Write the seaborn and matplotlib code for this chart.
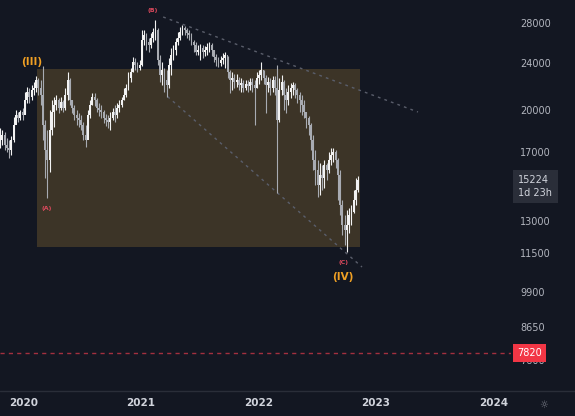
import matplotlib
matplotlib.use("Agg")
import matplotlib.pyplot as plt
import matplotlib.patches as mpatches
import matplotlib.transforms as mtransforms
from matplotlib.ticker import NullLocator
import numpy as np
import pandas as pd
import seaborn as sns

# cores estilo TradingView (tema escuro)
BG = "#131722"
TEXT = "#b2b5be"
UP = "#f2f2f2"
DOWN = "#a8abb2"

# velas semanais
START_WEEK = "2019-10-21"
FIRST_OPEN = 17500
CLOSES = [
    17810, 18160, 17470, 17270, 17140, 17810, 18870, 19610, 19390, 19840,
    19610, 20780, 21440, 21040, 21600, 21770, 22450, 21770, 21200, 18870,
    17140, 16490, 18510, 19840, 20390, 20780, 20150, 20620, 20150, 21200,
    22450, 20780, 20150, 19610, 19390, 19240, 18870, 18160, 17810, 19610,
    20390, 21040, 20780, 20150, 19990, 19840, 19390, 19240, 19090, 19390,
    19840, 19610, 20150, 20390, 20780, 21200, 21770, 22630, 23160, 24060,
    23800, 23530, 23800, 26200, 26700, 26000, 25700, 26400, 27020, 27230,
    24250, 22900, 23340, 22450, 22030, 23800, 24730, 25210, 26000, 26400,
    27020, 27420, 27230, 26910, 26700, 26000, 25700, 25020, 25210, 25410,
    25020, 25210, 25500, 25700, 25210, 24540, 24250, 23980, 24250, 24440,
    24730, 23160, 22450, 22630, 22280, 22450, 22030, 22200, 21770, 22110,
    21940, 22280, 22030, 21770, 22630, 22900, 23340, 22630, 22030, 22280,
    21770, 22450, 21770, 19240, 21600, 22280, 21200, 20780, 21440, 21770,
    22030, 21600, 21200, 20780, 20390, 19840, 19390, 18870, 17810, 16490,
    15860, 14970, 15560, 15380, 16170, 15860, 16490, 16810, 17010, 16490,
    15560, 13860, 12830, 12590, 12830, 13340, 13500, 14130, 14690, 15224,
]
HIGHS = [
    18660, 18510, 18370, 17950, 17810, 18090, 19460, 19990, 19840, 19990,
    20150, 21440, 21860, 21770, 22030, 22280, 22810, 22630, 22450, 23710,
    19240, 18510, 19990, 20780, 21040, 21200, 20950, 21040, 20780, 21770,
    23160, 22630, 20780, 20390, 19990, 19760, 19610, 19090, 18870, 19990,
    20780, 21360, 21360, 20950, 20550, 20390, 19990, 19690, 19610, 19840,
    20150, 20390, 20550, 20780, 21040, 21770, 22110, 23160, 23530, 24540,
    24440, 24060, 24250, 27230, 27230, 26910, 26400, 26910, 27420, 28290,
    27420, 24730, 24060, 23530, 23340, 24440, 25410, 25700, 26400, 27020,
    27530, 27750, 27640, 27420, 27230, 26910, 26200, 26000, 25700, 25800,
    25700, 25600, 25900, 26000, 25900, 25210, 24830, 24540, 24630, 24920,
    25020, 24630, 23340, 23160, 22990, 22990, 22720, 22630, 22450, 22450,
    22450, 22630, 22630, 22450, 23160, 23340, 24060, 23340, 22900, 22720,
    22630, 22810, 22810, 23800, 22630, 22900, 22450, 21770, 22030, 22200,
    22280, 22200, 21770, 21440, 21200, 20780, 19840, 19540, 19020, 18160,
    17140, 16490, 16300, 16170, 16490, 16300, 17010, 17270, 17270, 17140,
    16620, 15860, 14130, 13340, 13600, 13700, 13860, 14690, 15380, 15500,
]
LOWS = [
    17270, 17470, 17140, 17010, 16620, 16810, 17670, 19090, 19090, 19240,
    19240, 19690, 20550, 20550, 20780, 21200, 21440, 21200, 20390, 17810,
    15380, 14240, 15740, 18160, 18730, 19990, 19760, 19990, 19840, 19990,
    20780, 20390, 19760, 19240, 18870, 18730, 18510, 17810, 17340, 18660,
    19390, 20390, 20310, 19840, 19540, 19390, 19020, 18800, 18660, 18510,
    19240, 19090, 19390, 19840, 20230, 20780, 21040, 21600, 22280, 23160,
    23340, 23160, 23340, 23710, 25700, 25210, 25020, 25410, 26000, 26200,
    23800, 22280, 22030, 21440, 21040, 21770, 22900, 24250, 24730, 25700,
    26200, 26700, 26700, 26400, 26200, 25700, 25020, 24730, 24730, 24250,
    24440, 24630, 24730, 25020, 24630, 24060, 23710, 23620, 23710, 23890,
    23530, 22630, 21360, 21600, 21770, 21860, 21600, 21440, 21440, 21600,
    21440, 21600, 21440, 18870, 21770, 22110, 22450, 22110, 19760, 21440,
    21200, 21440, 21200, 14520, 19090, 21200, 19990, 19760, 20390, 20950,
    21200, 20950, 20550, 19840, 19610, 19390, 18660, 18160, 17140, 15860,
    14970, 14300, 14410, 14690, 14800, 15260, 15680, 16170, 16360, 15980,
    14130, 13340, 12350, 11880, 11560, 12450, 12830, 13440, 13860, 14580,
]

PRICE_TICKS = [28000, 24000, 20000, 17000, 13000, 11500, 9900, 8650, 7600]
YEAR_TICKS = ["2020", "2021", "2022", "2023", "2024"]

# desenhos (retângulo, linhas de tendência, alerta)
BOX_DATES = ["2020-02-14", "2022-11-13"]
BOX_PRICES = [23410, 11780]
UPPER_LINE_DATES = ["2021-03-11", "2023-05-12"]
UPPER_LINE_PRICES = [28620, 19830]
LOWER_LINE_DATES = ["2021-03-25", "2022-11-19"]
LOWER_LINE_PRICES = [21040, 10900]
ALERT_PRICE = 7820
LAST_PRICE = 15224
COUNTDOWN = "1d 23h"

WAVE_LABELS = ["(III)", "(IV)", "(A)", "(B)", "(C)"]
WAVE_DATES = ["2020-01-29", "2022-09-21", "2020-03-13", "2021-02-08", "2022-09-21"]
WAVE_PRICES = [24060, 10490, 13640, 29290, 11110]
WAVE_COLORS = ["#f0a024", "#f0a024", "#e04a5e", "#e04a5e", "#e04a5e"]
WAVE_SIZES = [7.5, 7.5, 4.5, 4.5, 4.5]

X_RANGE = ["2019-10-21", "2024-02-25"]
Y_RANGE = [6753, 30560]


def build_candles():
    dates = pd.date_range(START_WEEK, periods=len(CLOSES), freq="W-MON")
    df = pd.DataFrame({"date": dates, "close": CLOSES, "high": HIGHS, "low": LOWS})
    df["open"] = [FIRST_OPEN] + CLOSES[:-1]
    df["up"] = df["close"] >= df["open"]
    return df


def main():
    sns.set_theme(style="dark", rc={
        "axes.facecolor": BG,
        "figure.facecolor": BG,
        "axes.edgecolor": BG,
        "text.color": TEXT,
    })
    plt.rcParams["font.family"] = ["DejaVu Sans"]

    df = build_candles()

    fig = plt.figure(figsize=(5.75, 4.16), dpi=100)
    ax = fig.add_axes([0, 25 / 416, 511 / 575, 391 / 416])
    ax.set_yscale("log")

    # retângulo marrom da correção
    x0, x1 = pd.to_datetime(BOX_DATES)
    rect = mpatches.Rectangle((x0, BOX_PRICES[1]), x1 - x0, BOX_PRICES[0] - BOX_PRICES[1],
                              facecolor="#3c3427", edgecolor="none", zorder=1)
    ax.add_patch(rect)

    # velas
    colors = np.where(df["up"], UP, DOWN)
    ax.vlines(df["date"], df["low"], df["high"], colors=colors, linewidth=0.8, zorder=3)
    bottoms = np.minimum(df["open"], df["close"])
    heights = np.abs(df["close"] - df["open"])
    ax.bar(df["date"], heights, bottom=bottoms, width=5.5, color=colors,
           linewidth=0, zorder=4)

    # linhas de tendência pontilhadas
    sns.lineplot(x=pd.to_datetime(UPPER_LINE_DATES), y=UPPER_LINE_PRICES, ax=ax,
                 color="#5a5e6b", linestyle=(0, (2, 3)), linewidth=1, zorder=2)
    sns.lineplot(x=pd.to_datetime(LOWER_LINE_DATES), y=LOWER_LINE_PRICES, ax=ax,
                 color="#5a5e6b", linestyle=(0, (2, 3)), linewidth=1, zorder=2)

    # linha de alerta
    ax.axhline(ALERT_PRICE, color="#a3303f", linestyle=(0, (3, 3)), linewidth=1, zorder=2)

    # rótulos das ondas
    for lab, d, p, c, s in zip(WAVE_LABELS, WAVE_DATES, WAVE_PRICES, WAVE_COLORS, WAVE_SIZES):
        ax.text(pd.Timestamp(d), p, lab, color=c, fontsize=s, fontweight="bold",
                ha="center", va="center", zorder=5)

    ax.set_xlim(pd.to_datetime(X_RANGE))
    ax.set_ylim(Y_RANGE)
    ax.set_xlabel("")
    ax.set_ylabel("")

    # eixo de preço à direita
    ax.yaxis.tick_right()
    ax.yaxis.set_minor_locator(NullLocator())
    ax.set_yticks(PRICE_TICKS)
    ax.set_yticklabels([str(t) for t in PRICE_TICKS])
    ax.tick_params(axis="y", length=0, pad=6.5, labelsize=7, labelcolor=TEXT)

    ax.set_xticks(pd.to_datetime([f"{y}-01-01" for y in YEAR_TICKS]))
    ax.set_xticklabels(YEAR_TICKS, fontweight="bold")
    ax.tick_params(axis="x", length=0, pad=5, labelsize=7.5, labelcolor="#d1d4dc")
    ax.grid(False)
    sns.despine(ax=ax, left=True, bottom=True, right=True, top=True)

    trans = mtransforms.blended_transform_factory(ax.transAxes, ax.transData)
    trans_low = mtransforms.offset_copy(trans, fig=fig, y=-6, units="dots")
    ax.text(1.014, LAST_PRICE, f"{LAST_PRICE}\n{COUNTDOWN}", transform=trans_low,
            fontsize=7, color="#d1d4dc", ha="left", va="center", linespacing=1.3,
            bbox=dict(boxstyle="square,pad=0.55", facecolor="#2a2e39", edgecolor="none"),
            clip_on=False, zorder=10)
    ax.text(1.012, ALERT_PRICE, str(ALERT_PRICE), transform=trans,
            fontsize=7, color="white", ha="left", va="center",
            bbox=dict(boxstyle="square,pad=0.45", facecolor="#f23645", edgecolor="none"),
            clip_on=False, zorder=10)

    # linha separadora do eixo de tempo e ícone de configurações
    fig.add_artist(plt.Line2D([0, 1], [25 / 416, 25 / 416], color="#2a2e39", linewidth=1))
    fig.text(544 / 575, 1 - 405 / 416, "\u263c", color="#787b86", fontsize=7,
             ha="center", va="center")

    fig.savefig("out.png", dpi=100, facecolor=BG)
    plt.close(fig)


if __name__ == "__main__":
    main()
